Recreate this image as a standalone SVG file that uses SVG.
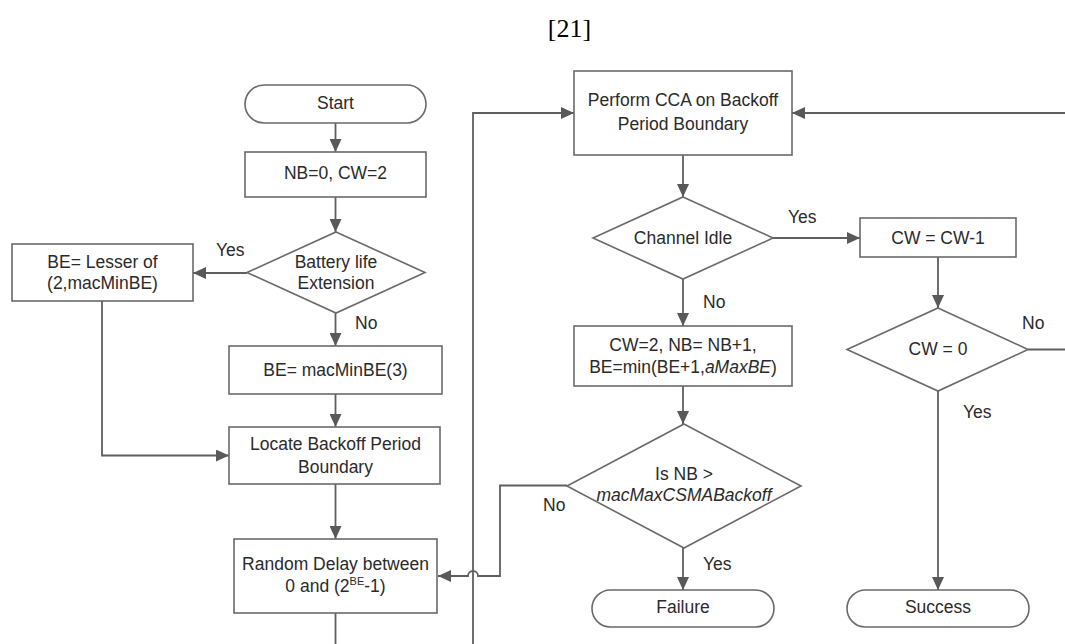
<svg xmlns="http://www.w3.org/2000/svg" width="1065" height="644" viewBox="0 0 1065 644">
<defs>
<marker id="ah" markerUnits="userSpaceOnUse" markerWidth="14" markerHeight="12" viewBox="0 0 14 12" refX="13" refY="6" orient="auto">
<path d="M0,0 L13,6 L0,12 Z" fill="#595959"/>
</marker>
<style>
.box{fill:#fff;stroke:#6a6a6a;stroke-width:1.6}
.ln{fill:none;stroke:#5f5f5f;stroke-width:1.8}
.arr{fill:none;stroke:#5f5f5f;stroke-width:1.8;marker-end:url(#ah)}
text{font-family:"Liberation Sans",Arial,sans-serif;font-size:17.5px;fill:#2a2a2a;text-anchor:middle}
.lbl{text-anchor:start}
.it{font-style:italic}
</style>
</defs>
<rect width="1065" height="644" fill="#fff"/>
<text x="569.5" y="37" style="font-family:'Liberation Serif','Times New Roman',serif;font-size:26px;fill:#000">[21]</text>

<g id="connectors">
<path class="arr" d="M335.5,123 L335.5,152"/>
<path class="arr" d="M335.5,197 L335.5,232"/>
<path class="arr" d="M247,273 L193,273"/>
<path class="arr" d="M335.5,313 L335.5,346"/>
<path class="arr" d="M102,301 L102,455.5 L229,455.5"/>
<path class="arr" d="M335.5,394 L335.5,427"/>
<path class="arr" d="M335.5,484 L335.5,539"/>
<path class="ln" d="M335.5,613 L335.5,644"/>
<path class="arr" d="M473,644 L473,113 L574,113"/>
<path class="arr" d="M1065,113 L792,113"/>
<path class="arr" d="M683,155 L683,197"/>
<path class="arr" d="M773,238 L860,238"/>
<path class="arr" d="M683,279 L683,326"/>
<path class="arr" d="M938,257 L938,308"/>
<path class="ln" d="M1028,349.5 L1065,349.5"/>
<path class="arr" d="M683,386 L683,424"/>
<path class="arr" d="M683,548 L683,590"/>
<path class="arr" d="M567,485.5 L500,485.5 L500,576 L478,576 A5,5 0 0 0 468,576 L438,576"/>
<path class="arr" d="M938,391 L938,590"/>
</g>

<g id="start"><rect class="box" x="245" y="85" width="181" height="38" rx="19"/><text x="335.5" y="109">Start</text></g>
<g id="init"><rect class="box" x="245" y="152" width="181" height="45"/><text x="335.5" y="179">NB=0, CW=2</text></g>
<g id="battery"><path class="box" d="M336,232 L425,272.5 L336,313 L247,272.5 Z"/><text x="336" y="268">Battery life</text><text x="336" y="289">Extension</text></g>
<g id="lesser"><rect class="box" x="12" y="244" width="181" height="57"/><text x="102.5" y="268">BE= Lesser of</text><text x="102.5" y="289">(2,macMinBE)</text></g>
<g id="macminbe"><rect class="box" x="229" y="346" width="213" height="48"/><text x="335.5" y="376">BE= macMinBE(3)</text></g>
<g id="locate"><rect class="box" x="229" y="427" width="211" height="57"/><text x="335.5" y="450">Locate Backoff Period</text><text x="335.5" y="473">Boundary</text></g>
<g id="random"><rect class="box" x="234" y="539" width="203" height="74"/><text x="335.5" y="570">Random Delay between</text><text x="335.5" y="592">0 and (2<tspan dy="-7" style="font-size:11px">BE</tspan><tspan dy="7">-1)</tspan></text></g>
<g id="cca"><rect class="box" x="574" y="71" width="218" height="84"/><text x="683" y="106">Perform CCA on Backoff</text><text x="683" y="130">Period Boundary</text></g>
<g id="idle"><path class="box" d="M683,197 L773,238 L683,279 L593,238 Z"/><text x="683" y="244">Channel Idle</text></g>
<g id="cwdec"><rect class="box" x="860" y="218" width="156" height="39"/><text x="938" y="244">CW = CW-1</text></g>
<g id="cwzero"><path class="box" d="M938,308 L1028,349.5 L938,391 L847,349.5 Z"/><text x="938" y="355">CW = 0</text></g>
<g id="update"><rect class="box" x="574" y="326" width="218" height="60"/><text x="683" y="351">CW=2, NB= NB+1,</text><text x="683" y="373">BE=min(BE+1,<tspan class="it">aMaxBE</tspan>)</text></g>
<g id="isnb"><path class="box" d="M684,424 L801,486 L684,548 L567,486 Z"/><text x="684" y="480">Is NB &gt;</text><text x="684" y="501" class="it">macMaxCSMABackoff</text></g>
<g id="failure"><rect class="box" x="592" y="590" width="182" height="37" rx="18.5"/><text x="683" y="613">Failure</text></g>
<g id="success"><rect class="box" x="847" y="590" width="182" height="37" rx="18.5"/><text x="938" y="613">Success</text></g>

<g id="labels">
<text class="lbl" x="216" y="256">Yes</text>
<text class="lbl" x="355" y="329">No</text>
<text class="lbl" x="788" y="223">Yes</text>
<text class="lbl" x="703" y="308">No</text>
<text class="lbl" x="1022" y="329">No</text>
<text class="lbl" x="543" y="511">No</text>
<text class="lbl" x="703" y="570">Yes</text>
<text class="lbl" x="963" y="418">Yes</text>
</g>
</svg>
